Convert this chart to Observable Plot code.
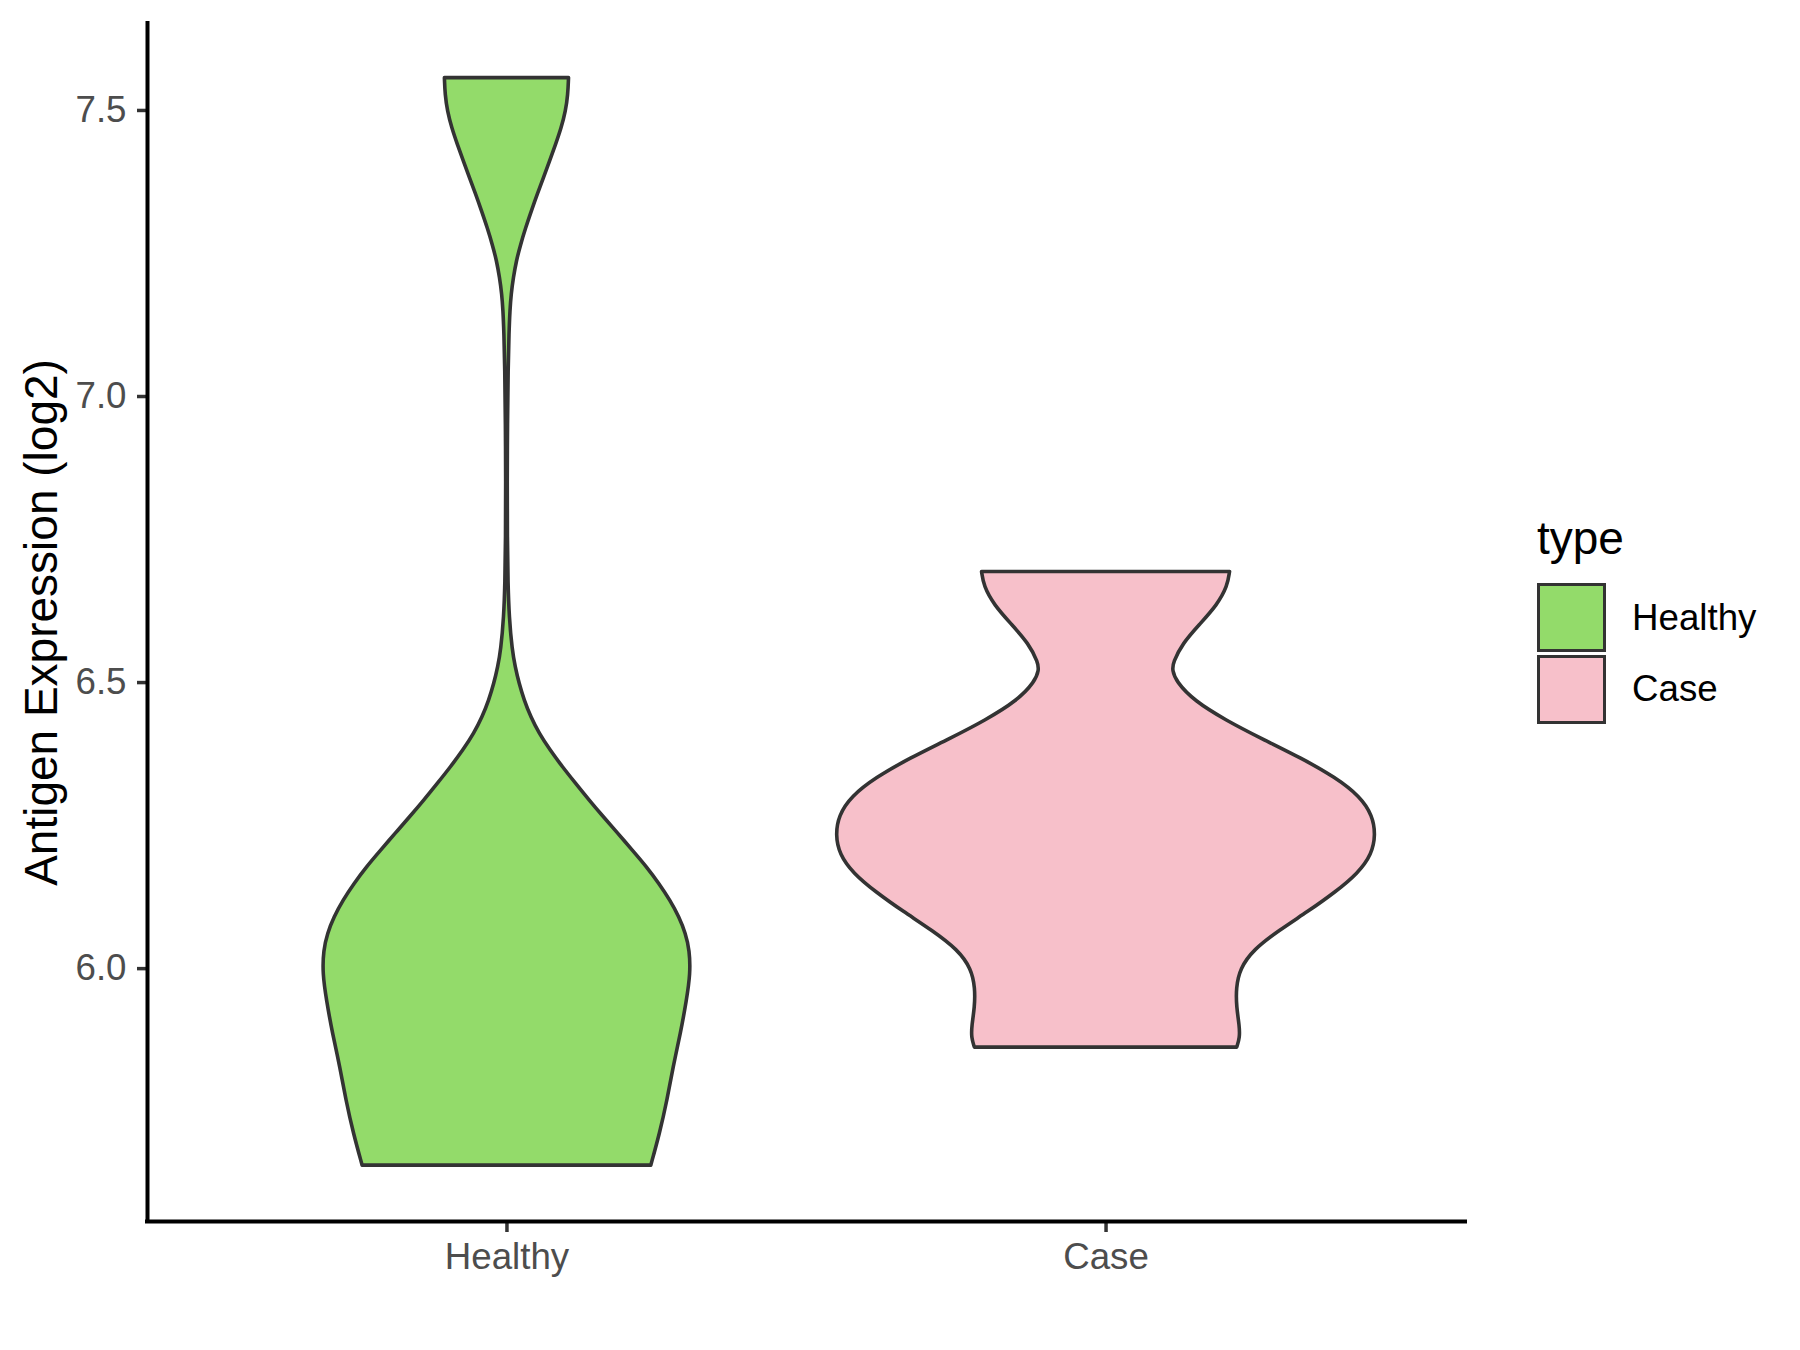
<!DOCTYPE html>
<html><head><meta charset="utf-8">
<script src="https://cdn.jsdelivr.net/npm/d3@7"></script>
<script src="https://cdn.jsdelivr.net/npm/@observablehq/plot@0.6"></script>
<style>
body{margin:0;background:#fff;}
#wrap{position:relative;width:1800px;height:1350px;font-family:"Liberation Sans",Arial,sans-serif;background:#fff;}
#wrap svg{position:absolute;left:0;top:0;}
.leg{position:absolute;white-space:nowrap;color:#000;}
.key{position:absolute;box-sizing:border-box;border:3.5px solid #333333;}
</style></head><body><div id="wrap"></div>
<script>
const categories = ["Healthy", "Case"];
const yTicks = [6.0, 6.5, 7.0, 7.5];
const yLabel = "Antigen Expression (log2)";
const legendTitle = "type";

// violin outlines: value and half-width (in category units)
const healthyValues = [5.6556, 5.711, 5.769, 5.8275, 5.886, 5.944, 5.9907, 6.0315, 6.0607, 6.0897, 6.1189, 6.148, 6.177, 6.2063, 6.2355, 6.2645, 6.2937, 6.3229, 6.352, 6.3811, 6.4103, 6.4393, 6.4685, 6.498, 6.527, 6.556, 6.614, 6.673, 6.75, 6.85, 6.95, 7.05, 7.11, 7.15, 7.178, 7.207, 7.236, 7.265, 7.294, 7.323, 7.353, 7.382, 7.411, 7.440, 7.469, 7.498, 7.527, 7.5565];
const healthyHalfWidths = [0.2409, 0.2555, 0.268, 0.278, 0.2905, 0.3005, 0.307, 0.3055, 0.299, 0.288, 0.273, 0.2545, 0.234, 0.210, 0.186, 0.1617, 0.138, 0.1155, 0.0933, 0.0728, 0.0545, 0.0405, 0.0295, 0.021, 0.0145, 0.0095, 0.0045, 0.0025, 0.0015, 0.0012, 0.0017, 0.0028, 0.0042, 0.0058, 0.0078, 0.0115, 0.0164, 0.0236, 0.032, 0.0414, 0.0514, 0.062, 0.072, 0.082, 0.0914, 0.0986, 0.1025, 0.1036];
const caseValues = [5.862, 5.8785, 5.8986, 5.932, 5.9654, 5.999, 6.0323, 6.0658, 6.0993, 6.1327, 6.166, 6.1996, 6.233, 6.2666, 6.30, 6.3334, 6.367, 6.4003, 6.4338, 6.4673, 6.5007, 6.521, 6.534, 6.5677, 6.601, 6.6346, 6.668, 6.6934];
const caseHalfWidths = [0.219, 0.224, 0.2235, 0.2185, 0.2178, 0.2242, 0.2466, 0.289, 0.338, 0.383, 0.4215, 0.4445, 0.4506, 0.4456, 0.425, 0.3836, 0.327, 0.262, 0.200, 0.148, 0.118, 0.1113, 0.1126, 0.1285, 0.157, 0.186, 0.2035, 0.207];

const fillColors = ["#93DB6A", "#F7C0CA"];

const rows = [];
[[healthyValues, healthyHalfWidths], [caseValues, caseHalfWidths]].forEach(([vals, hw], i) => {
  vals.forEach((v, j) => rows.push({type: categories[i], pos: i + 1, value: v, half: hw[j]}));
});

const yMin = 5.558, yMax = 7.652;

const plot = Plot.plot({
  width: 1800, height: 1350,
  marginLeft: 147, marginRight: 335, marginTop: 23, marginBottom: 129,
  style: {fontFamily: '"Liberation Sans", Arial, sans-serif', fontSize: "36.7px", color: "#4D4D4D", background: "white"},
  x: {domain: [0.4, 2.6], axis: null},
  y: {domain: [yMin, yMax], axis: null},
  color: {domain: categories, range: fillColors},
  marks: [
    Plot.areaX(rows, {y: "value", x1: d => d.pos - d.half, x2: d => d.pos + d.half, z: "type", fill: "type", stroke: "#333333", strokeWidth: 3.6, strokeLinejoin: "round", curve: "basis"}),
    Plot.axisY(yTicks, {tickSize: 10, tickPadding: 11, tickFormat: d3.format(".1f"), stroke: "#333333", strokeWidth: 3.5, fill: "#4D4D4D", fontSize: 36.7, label: null}),
    Plot.axisX([1, 2], {tickSize: 11, tickPadding: 10, tickFormat: d => categories[d - 1], stroke: "#333333", strokeWidth: 3.5, fill: "#4D4D4D", fontSize: 36.7, label: null}),
    Plot.ruleX([0.4], {stroke: "black", strokeWidth: 4, strokeLinecap: "square"}),
    Plot.ruleY([yMin], {stroke: "black", strokeWidth: 4, strokeLinecap: "square"}),
    Plot.text([yLabel], {text: d => d, frameAnchor: "left", textAnchor: "middle", rotate: -90, dx: -105.5, fontSize: 46, fill: "black"})
  ]
});

const wrap = document.getElementById("wrap");
wrap.appendChild(plot);

function addDiv(cls, text, css) {
  const d = document.createElement("div");
  d.className = cls;
  if (text) d.textContent = text;
  Object.assign(d.style, css);
  wrap.appendChild(d);
}
addDiv("leg", legendTitle, {left: "1537px", top: "515px", fontSize: "46px", lineHeight: "46px"});
categories.forEach((c, i) => {
  addDiv("key", null, {left: "1537px", top: (583 + i * 72) + "px", width: "69px", height: "69px", background: fillColors[i]});
  addDiv("leg", c, {left: "1632px", top: (600 + i * 71) + "px", fontSize: "36.7px", lineHeight: "36.7px"});
});
</script></body></html>
